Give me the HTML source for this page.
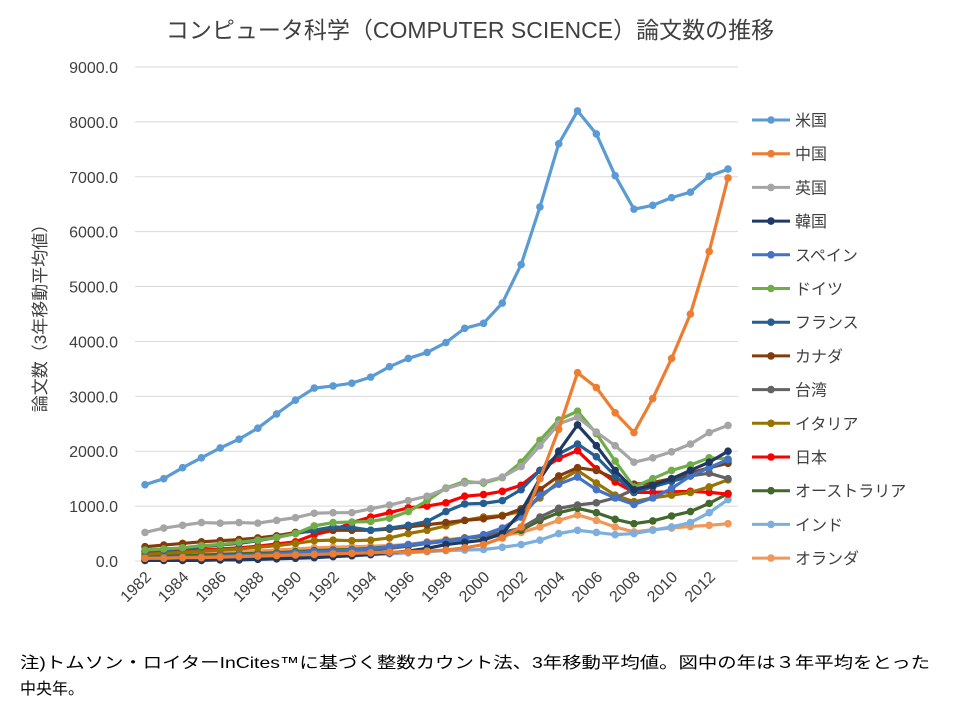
<!DOCTYPE html>
<html><head><meta charset="utf-8"><style>
body{margin:0;background:#fff;font-family:"Liberation Sans","Noto Sans CJK JP",sans-serif;}
svg text{font-family:"Liberation Sans","Noto Sans CJK JP",sans-serif;}
</style></head><body>
<svg id="c" width="960" height="720">
<text x="470" y="38" font-size="23" fill="#404040" text-anchor="middle">コンピュータ科学（COMPUTER SCIENCE）論文数の推移</text>
<text transform="translate(46,314) rotate(-90)" font-size="17" fill="#404040" text-anchor="middle">論文数（3年移動平均値）</text>
<text x="20" y="668" font-size="16" fill="#000" textLength="910" lengthAdjust="spacingAndGlyphs">注)トムソン・ロイターInCites™に基づく整数カウント法、3年移動平均値。図中の年は３年平均をとった</text>
<text x="20" y="694" font-size="16" fill="#000">中央年。</text>
<g id="grid"></g><g id="series"></g><g id="legend"></g>
</svg>
<script>
const years=[];for(let y=1982;y<=2013;y++)years.push(y);
const yTicks=[0,1000,2000,3000,4000,5000,6000,7000,8000,9000];
const names=["米国","中国","英国","韓国","スペイン","ドイツ","フランス","カナダ","台湾","イタリア","日本","オーストラリア","インド","オランダ"];
const colors=["#5b9bd5","#ed7d31","#a5a5a5","#1f3864","#4472c4","#70ad47","#255e91","#843c0c","#636363","#997300","#ff0000","#43682b","#7cafdd","#f1975a"];
const us=[1390,1500,1700,1880,2060,2220,2420,2680,2930,3150,3190,3240,3350,3540,3690,3800,3980,4240,4330,4700,5400,6450,7600,8200,7780,7020,6410,6480,6620,6720,7010,7140];
const china=[50,50,60,60,70,80,90,100,110,120,130,140,150,160,170,180,200,240,300,420,620,1500,2400,3430,3160,2700,2340,2960,3690,4500,5640,6980];
const uk=[520,600,650,700,690,700,690,740,790,870,880,880,950,1020,1100,1180,1320,1420,1440,1530,1720,2100,2500,2620,2350,2100,1800,1880,1990,2130,2340,2470];
const korea=[10,10,10,10,20,20,30,40,50,60,80,100,120,150,180,230,300,340,380,500,900,1500,2000,2480,2100,1650,1300,1380,1500,1650,1800,2000];
const spain=[50,60,70,80,90,100,110,130,150,170,180,200,220,260,300,330,360,400,480,600,800,1200,1400,1530,1300,1150,1030,1150,1320,1550,1700,1850];
const germany=[200,220,240,280,300,340,380,430,500,640,700,710,720,780,900,1100,1330,1450,1420,1520,1800,2200,2570,2730,2320,1820,1350,1500,1650,1750,1880,1860];
const france=[180,200,230,260,290,320,370,430,500,560,620,610,560,600,650,720,900,1040,1050,1100,1300,1650,1950,2130,1900,1550,1250,1350,1450,1550,1700,1830];
const canada=[260,290,320,350,370,390,420,460,520,540,560,560,560,580,620,660,700,740,770,820,950,1300,1550,1700,1650,1500,1400,1430,1500,1600,1700,1780];
const taiwan=[20,20,30,30,40,50,60,70,90,110,140,160,190,230,270,320,360,420,470,520,600,800,960,1020,1060,1150,1300,1400,1500,1550,1600,1500];
const italy=[120,140,160,180,200,220,250,280,320,370,380,370,380,420,500,560,640,740,800,830,900,1150,1450,1650,1420,1200,1080,1150,1200,1250,1350,1480];
const japan=[170,180,190,200,220,240,270,310,350,480,560,700,800,880,970,1000,1060,1180,1210,1270,1380,1650,1870,2010,1680,1440,1250,1250,1260,1270,1250,1220];
const australia=[80,90,100,110,120,130,140,150,170,190,200,210,230,260,290,330,370,410,450,480,560,740,880,960,880,760,680,730,820,900,1050,1230];
const india=[20,20,20,30,30,40,40,50,60,70,80,90,110,130,150,170,190,200,210,250,300,380,500,560,520,480,500,560,620,700,880,1120];
const netherlands=[120,130,140,150,160,170,180,200,220,240,250,260,270,280,300,350,390,420,440,460,520,620,740,840,740,620,530,570,600,630,650,680];
const seriesData=[us,china,uk,korea,spain,germany,france,canada,taiwan,italy,japan,australia,india,netherlands];
const NS="http://www.w3.org/2000/svg";
const x0=145,x1=728,y0=561,y1=67;
const xs=y=>x0+(y-1982)*(x1-x0)/(2013-1982);
const ys=v=>y0-v*(y0-y1)/9000;
function mk(t,a,p){const e=document.createElementNS(NS,t);for(const k in a)e.setAttribute(k,a[k]);p.appendChild(e);return e;}
const grid=document.getElementById('grid');
yTicks.forEach(t=>{
 const l=mk('line',{x1:135,x2:738,y1:ys(t),y2:ys(t),stroke:'#d9d9d9','stroke-width':1},grid);
 
 
 const tx=mk('text',{x:118,y:ys(t)+6,'font-size':16,fill:'#404040','text-anchor':'end'},grid);
 tx.textContent=t.toFixed(1);
 
 
});
years.forEach(y=>{if(y%2)return;
 const tx=mk('text',{transform:`translate(${xs(y)+7},${578}) rotate(-45)`,'font-size':16,fill:'#404040','text-anchor':'end'},grid);
 tx.textContent=y;
 
 
});
const sg=document.getElementById('series');
for(let i=seriesData.length-1;i>=0;i--){
 const d=seriesData[i];
 const g=mk('g',{},sg);
 
 
 const pl=mk('polyline',{points:d.map((v,j)=>xs(years[j])+','+ys(v)).join(' '),fill:'none',stroke:colors[i],'stroke-width':3.2,'stroke-linejoin':'round'},g);
 
 
 d.forEach((v,j)=>{const c=mk('circle',{cx:xs(years[j]),cy:ys(v),r:3.8,fill:colors[i]},g);
  
  });
}
const lg=document.getElementById('legend');
names.forEach((n,i)=>{
 const y=120+i*33.7;
 const g=mk('g',{},lg);
 
 
 mk('line',{x1:752,x2:790,y1:y,y2:y,stroke:colors[i],'stroke-width':3},g);
 mk('circle',{cx:771,cy:y,r:3.8,fill:colors[i]},g);
 const t=mk('text',{x:795,y:y+6,'font-size':16,fill:'#404040'},g);t.textContent=n;
});
</script>
</body></html>
